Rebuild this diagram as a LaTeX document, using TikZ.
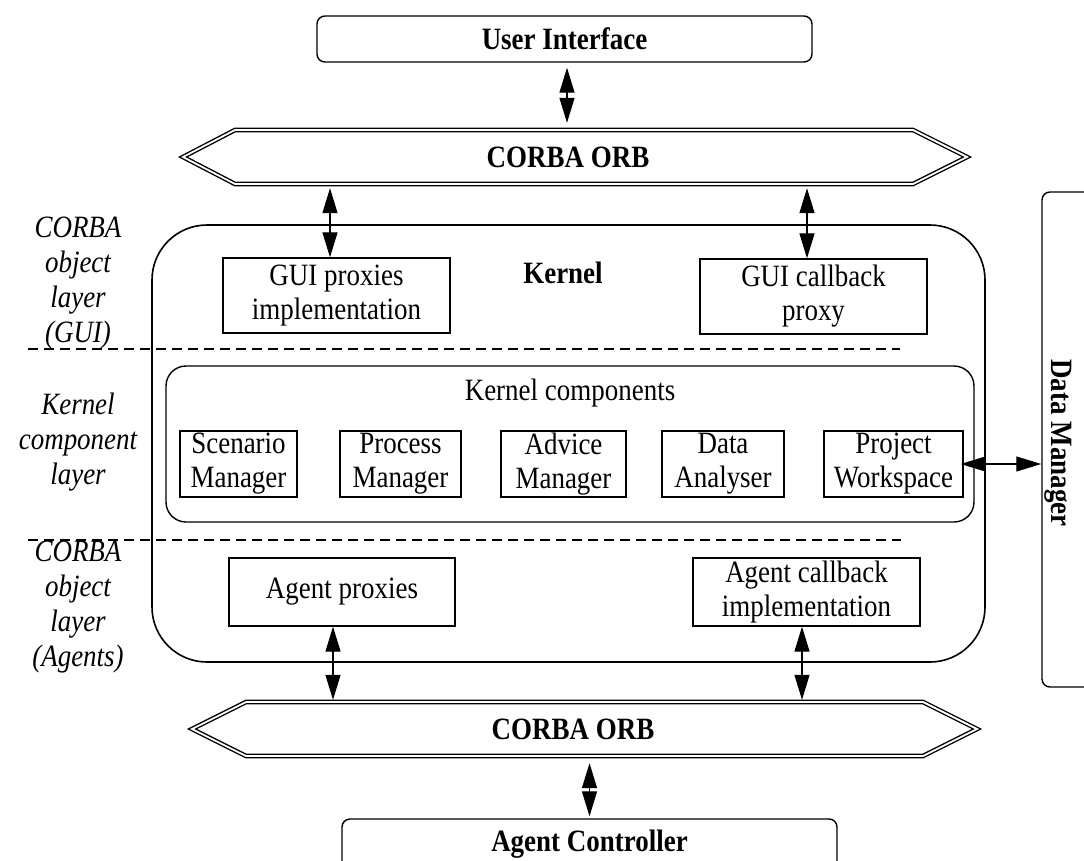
\documentclass[tikz,border=0pt]{standalone}
\usepackage{fontspec}
\setmainfont{Liberation Serif}[FakeStretch=0.87]
\usetikzlibrary{arrows.meta}

\begin{document}
\begin{tikzpicture}[x=1pt,y=-1pt,
  every node/.style={font=\fontsize{31}{34}\selectfont, inner sep=0pt},
  plainbox/.style={draw, line width=1.4pt, align=center},
  roundbox/.style={draw, line width=1.4pt, rounded corners=8pt},
  orbband/.style={draw, line width=1.4pt, double=white, double distance=1.8pt, line join=miter},
  biarrow/.style={line width=1.3pt, {Triangle[length=25pt,width=15pt]}-{Triangle[length=25pt,width=15pt]}},
  layerlabel/.style={align=center, font=\fontsize{31}{35}\selectfont\itshape},
  sep/.style={line width=1.5pt, dash pattern=on 10pt off 6pt},
  bold/.style={font=\fontsize{31}{34}\selectfont\bfseries}
]
\useasboundingbox (0,0) rectangle (1084,860);

% user interface and upper ORB
\node[roundbox, bold, minimum width=495pt, minimum height=46pt] (ui) at (564.5,39) {User Interface};
\draw[orbband] (183,157) -- (235,130) -- (913,130) -- (967,157) -- (913,184) -- (235,184) -- cycle;
\node[bold, minimum width=678pt, minimum height=58pt] (orbtop) at (568,157) {CORBA ORB};

% kernel
\node[draw, line width=1.6pt, rounded corners=55pt, minimum width=833pt, minimum height=437pt] (kernel) at (568.5,443.5) {};
\node[bold] (kernellabel) at (563,273) {Kernel};

\node[plainbox, minimum width=227pt, minimum height=75pt] (guiprox) at (336.5,295.5) {GUI proxies\\implementation};
\node[plainbox, minimum width=227pt, minimum height=75pt] (gcb) at (813.5,296.5) {GUI callback\\proxy};

% kernel components
\node[draw, line width=1.4pt, rounded corners=20pt, minimum width=808pt, minimum height=156pt] (kcomp) at (570,444) {};
\node (kcomplabel) at (570,393) {Kernel components};
\node[plainbox, minimum width=117pt, minimum height=66pt] (scen) at (238.5,464) {Scenario\\Manager};
\node[plainbox, minimum width=121pt, minimum height=66pt] (proc) at (400.5,464) {Process\\Manager};
\node[plainbox, minimum width=125pt, minimum height=66pt] (adv) at (563.5,464) {Advice\\Manager};
\node[plainbox, minimum width=122pt, minimum height=66pt] (data) at (723,464) {Data\\Analyser};
\node[plainbox, minimum width=139pt, minimum height=66pt] (pw) at (893.5,464) {Project\\Workspace};

% agent side objects
\node[plainbox, minimum width=226pt, minimum height=68pt] (ap) at (342,592) {Agent proxies};
\node[plainbox, minimum width=227pt, minimum height=68pt] (acb) at (806.5,592) {Agent callback\\implementation};

% lower ORB and agent controller
\draw[orbband] (192,729) -- (246,702) -- (923,702) -- (977,729) -- (923,756) -- (246,756) -- cycle;
\node[bold, minimum width=677pt, minimum height=58pt] (orbbot) at (573,729) {CORBA ORB};
\node[roundbox, bold, minimum width=495pt, minimum height=50pt] (ac) at (589.5,844) {Agent Controller};

% data manager
\node[roundbox, minimum width=80pt, minimum height=495pt] (dm) at (1082,439.5) {};
\node[bold, rotate=-90] (dmlabel) at (1058,443) {Data Manager};

% layer captions and separators
\node[layerlabel] (l1) at (78,283) {CORBA\\object\\layer\\(GUI)};
\node[layerlabel] (l2) at (78,442) {Kernel\\component\\layer};
\node[layerlabel] (l3) at (78,607) {CORBA\\object\\layer\\(Agents)};
\draw[sep] (28,349) -- (900,349);
\draw[sep] (28,540) -- (901,540);

% connectors
\coordinate (a1) at ([xshift=2.5pt]ui.south);
\draw[biarrow, shorten <=5pt, shorten >=5pt] (a1) -- (a1 |- orbtop.north);
\coordinate (a2) at ([xshift=-6.5pt]guiprox.north);
\draw[biarrow, shorten <=2pt] (a2 |- orbtop.south) -- (a2);
\coordinate (a3) at ([xshift=-6.5pt]gcb.north);
\draw[biarrow, shorten <=2pt] (a3 |- orbtop.south) -- (a3);
\coordinate (a4) at ([xshift=-9pt]ap.south);
\draw[biarrow] (a4) -- (a4 |- orbbot.north);
\coordinate (a5) at ([xshift=-4.5pt]acb.south);
\draw[biarrow] (a5) -- (a5 |- orbbot.north);
\coordinate (a6) at (ac.north);
\draw[biarrow, shorten <=5pt, shorten >=2pt] (a6 |- orbbot.south) -- (a6);
\draw[biarrow, shorten <=-3pt] (pw.east) -- (pw.east -| dm.west);
\end{tikzpicture}
\end{document}
